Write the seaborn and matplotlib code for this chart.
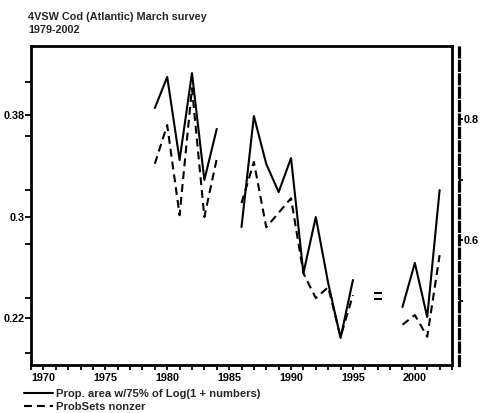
import numpy as np
import pandas as pd
import matplotlib
matplotlib.use("Agg")
import matplotlib.pyplot as plt
import seaborn as sns
from matplotlib.ticker import FixedLocator, FixedFormatter, NullFormatter

# ---- data ----
years = list(range(1979, 2003))
prop_area = [0.3855, 0.410, 0.3445, 0.413, 0.3288, 0.369, np.nan,
             0.2917, 0.3792, 0.3414, 0.3193, 0.3461, 0.2554, 0.2996,
             0.2476, 0.2043, 0.250, np.nan, 0.2397, np.nan, 0.2287,
             0.2634, 0.2208, 0.3209]
prob_sets = [0.726, 0.790, 0.641, 0.851, 0.638, 0.734, np.nan,
             0.661, 0.729, 0.621, 0.645, 0.669, 0.545, 0.504,
             0.522, 0.440, 0.509, np.nan, 0.502, np.nan, 0.460,
             0.476, 0.440, 0.575]
title_lines = ["4VSW Cod (Atlantic) March survey", "1979-2002"]
series_labels = ["Prop. area w/75% of Log(1 + numbers)", "ProbSets nonzer"]
left_ticks = [0.22, 0.3, 0.38]
left_ticklabels = ["0.22", "0.3", "0.38"]
right_ticks = [0.6, 0.8]
right_ticklabels = ["0.6", "0.8"]
x_major = [1970, 1975, 1980, 1985, 1990, 1995, 2000]

sns.set_theme(style="ticks")
plt.rcParams["font.family"] = ["Liberation Sans", "DejaVu Sans"]
plt.rcParams["font.weight"] = "bold"
FS = 7.8


def segments(vals):
    df = pd.DataFrame({"year": years, "val": vals})
    df["seg"] = df["val"].isna().cumsum()
    df = df.dropna().copy()
    size = df.groupby("seg")["val"].transform("size")
    return df[size > 1], df[size == 1]


fig = plt.figure(figsize=(4.83, 4.13), dpi=100)
ax = fig.add_axes([31 / 483, 48 / 413, 421 / 483, 319 / 413])
ax2 = ax.twinx()

solid_lines, solid_pts = segments(prop_area)
dash_lines, dash_pts = segments(prob_sets)

sns.lineplot(data=solid_lines, x="year", y="val", units="seg", estimator=None,
             sort=False, color="black", linewidth=1.5, ax=ax)
sns.scatterplot(data=solid_pts, x="year", y="val", marker="_", s=40,
                color="black", linewidth=1.5, ax=ax)
sns.lineplot(data=dash_lines, x="year", y="val", units="seg", estimator=None,
             sort=False, color="black", linewidth=1.5,
             linestyle=(0, (3.8, 2.4)), ax=ax2)
sns.scatterplot(data=dash_pts, x="year", y="val", marker="_", s=40,
                color="black", linewidth=1.5, ax=ax2)

ax.set_xlim(1969, 2003)
ax.set_ylim(0.183, 0.4344)
ax2.set_ylim(0.3934, 0.9207)

for a in (ax, ax2):
    a.set_xlabel("")
    a.set_ylabel("")
    a.grid(False)

# main frame
for s in ["top", "bottom", "left", "right"]:
    ax.spines[s].set_visible(True)
    ax.spines[s].set_linewidth(2)
    ax.spines[s].set_color("black")
for s in ["top", "bottom", "left"]:
    ax2.spines[s].set_visible(False)
ax2.spines["right"].set_position(("outward", 5))
ax2.spines["right"].set_linewidth(2.3)
ax2.spines["right"].set_linestyle((0, (2.8, 1.4)))
ax2.spines["right"].set_color("black")

# x ticks
ax.xaxis.set_major_locator(FixedLocator(x_major))
ax.xaxis.set_major_formatter(FixedFormatter([str(v) for v in x_major]))
ax.xaxis.set_minor_locator(FixedLocator(list(range(1969, 2004))))
ax.tick_params(axis="x", which="both", direction="out", length=3.5, width=1.3,
               pad=2, labelsize=FS, colors="black")
ax.tick_params(axis="x", which="minor", length=3.5)

# left ticks
ax.yaxis.set_major_locator(FixedLocator(left_ticks))
ax.yaxis.set_major_formatter(FixedFormatter(left_ticklabels))
ax.yaxis.set_minor_locator(FixedLocator([0.1924, 0.2358, 0.2783, 0.3209, 0.3634, 0.4060]))
ax.yaxis.set_minor_formatter(NullFormatter())
ax.tick_params(axis="y", which="both", direction="out", length=4, width=1.3,
               pad=0.5, labelsize=FS, colors="black", right=False)

# right ticks
ax2.yaxis.set_major_locator(FixedLocator(right_ticks))
ax2.yaxis.set_major_formatter(FixedFormatter(right_ticklabels))
ax2.yaxis.set_minor_locator(FixedLocator([0.5, 0.7]))
ax2.yaxis.set_minor_formatter(NullFormatter())
ax2.tick_params(axis="y", which="both", direction="out", length=3, width=1.3,
                pad=0.5, labelsize=FS, colors="black")

# title
fig.text(28 / 483, 1 - 20.5 / 413, title_lines[0], fontsize=FS, va="baseline", ha="left")
fig.text(28 / 483, 1 - 33 / 413, title_lines[1], fontsize=FS, va="baseline", ha="left")

# legend
h1 = ax.get_lines()[0]
h2 = ax2.get_lines()[0]
fig.legend(handles=[h1, h2], labels=series_labels, loc="upper left",
           bbox_to_anchor=(24 / 483, 1 - 389 / 413), bbox_transform=fig.transFigure,
           frameon=False, fontsize=FS + 0.3, handlelength=2.6, handletextpad=0.2,
           labelspacing=0.25, borderpad=0, borderaxespad=0)

fig.savefig("out.png", dpi=100)
